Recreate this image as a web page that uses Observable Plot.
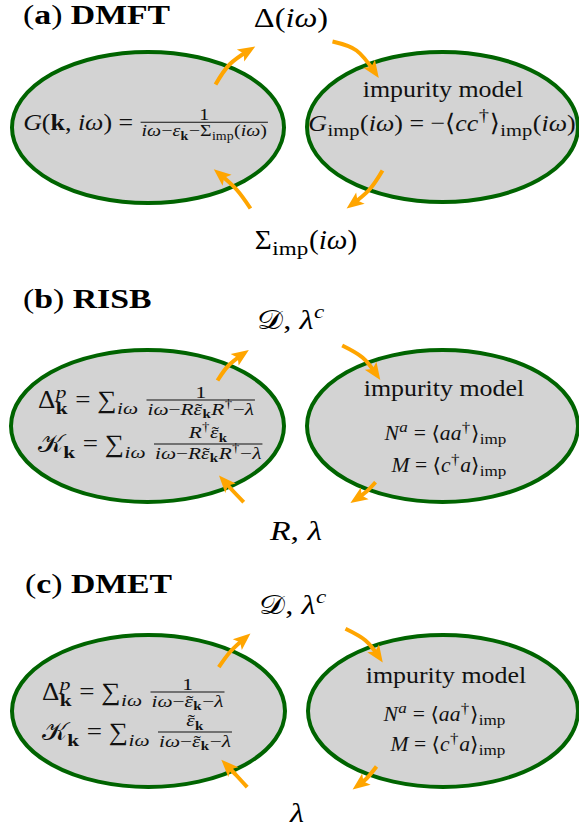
<!DOCTYPE html>
<html><head><meta charset="utf-8">
<script src="https://cdn.jsdelivr.net/npm/d3@7"></script>
<script src="https://cdn.jsdelivr.net/npm/@observablehq/plot@0.6"></script>
<style>body{margin:0;background:#fff}#chart svg{display:block}</style>
</head><body><div id="chart"></div>
<script>
// ---------- helpers for the formula markup ----------
const R = t => [t, "r"], I = t => [t, "i"], B = t => [t, "b"];
const sub = (...a) => ({sub: a}), sup = (...a) => ({sup: a});
const ss = (p, b) => ({ss: [p, b]}), frac = (n, d) => ({frac: [n, d]});
const T = t => ({tilde: t}); // italic letter with a tilde accent

// ---------- data ----------
const ellipses = [
  {id: "a-left", cx: 148, cy: 127.5, rx: 136, ry: 75.5},
  {id: "a-right", cx: 442.5, cy: 127, rx: 135.5, ry: 75},
  {id: "b-left", cx: 147.5, cy: 426, rx: 136.5, ry: 76},
  {id: "b-right", cx: 442.5, cy: 426, rx: 135.5, ry: 76},
  {id: "c-left", cx: 148.5, cy: 711, rx: 136.5, ry: 76},
  {id: "c-right", cx: 443, cy: 711, rx: 135, ry: 76}
];

const arrows = [
  {id: "a-ul", pts: [[215, 84], [229, 64], [249, 49.5]]},
  {id: "a-ll", pts: [[250, 208], [236, 189], [218.5, 173]]},
  {id: "a-ur", pts: [[332, 41], [356, 50], [374.5, 72]]},
  {id: "a-lr", pts: [[382, 170], [369, 189], [351.5, 204]]},
  {id: "b-ul", pts: [[217, 380], [228, 365], [242.8, 353.3]]},
  {id: "b-ll", pts: [[243.3, 501.7], [233, 491], [223, 480]]},
  {id: "b-ur", pts: [[341.7, 345], [362, 357], [376, 374]]},
  {id: "b-lr", pts: [[375, 481.7], [366, 491], [355.5, 498.7]]},
  {id: "c-ul", pts: [[218.3, 666.7], [230, 651], [244.8, 637.3]]},
  {id: "c-ll", pts: [[246.7, 786.7], [236, 775], [225.5, 764]]},
  {id: "c-ur", pts: [[345, 628.3], [365, 640], [378.5, 656.5]]},
  {id: "c-lr", pts: [[376, 766], [367, 777], [357.5, 785]]}
];

const titles = [
  {x: 23, y: 24, anchor: "start", size: 27, hs: 1.25, items: [R("("), B("a"), R(") "), B("DMFT")]},
  {x: 23, y: 308, anchor: "start", size: 27, hs: 1.25, items: [R("("), B("b"), R(") "), B("RISB")]},
  {x: 25, y: 593, anchor: "start", size: 27, hs: 1.25, items: [R("("), B("c"), R(") "), B("DMET")]}
];

const flowLabels = [
  {x: 291, y: 27, anchor: "middle", size: 27, hs: 1.2, items: [R("Δ("), I("iω"), R(")")]},
  {x: 306, y: 249, anchor: "middle", size: 27, hs: 1.08, items: [R("Σ"), sub(R("imp")), R("("), I("iω"), R(")")]},
  {x: 291, y: 329, anchor: "middle", size: 27, hs: 1.2, items: [R("𝒟"), R(", "), I("λ"), sup(I("c"))]},
  {x: 296, y: 540, anchor: "middle", size: 27, hs: 1.25, items: [I("R"), R(", "), I("λ")]},
  {x: 293, y: 614, anchor: "middle", size: 27, hs: 1.2, items: [R("𝒟"), R(", "), I("λ"), sup(I("c"))]},
  {x: 297, y: 822, anchor: "middle", size: 27, hs: 1.2, items: [I("λ")]}
];

const denRISB = [I("iω"), R("−"), I("R"), T("ε"), sub(B("k")), I("R"), sup(R("†")), R("−"), I("λ")];
const denDMET = [I("iω"), R("−"), T("ε"), sub(B("k")), R("−"), I("λ")];

const lattice = [
  {x: 146, y: 130, anchor: "middle", size: 24, fr: 0.68, items: [I("G"), R("("), B("k"), R(", "), I("iω"), R(")"), R(" = "),
    frac([R("1")], [I("iω"), R("−"), I("ε"), sub(B("k")), R("−"), R("Σ"), sub(R("imp")), R("("), I("iω"), R(")")])]},
  {x: 38, y: 408, anchor: "start", size: 25, fr: 0.7, items: [R("Δ"), ss([I("p")], [B("k")]), R(" = "), R("∑"), sub(I("iω")), R(" "),
    frac([R("1")], denRISB)]},
  {x: 38, y: 452, anchor: "start", size: 25, fr: 0.7, items: [R("𝒦"), sub(B("k")), R(" = "), R("∑"), sub(I("iω")), R(" "),
    frac([I("R"), sup(R("†")), T("ε"), sub(B("k"))], denRISB)]},
  {x: 42, y: 700, anchor: "start", size: 25, fr: 0.7, items: [R("Δ"), ss([I("p")], [B("k")]), R(" = "), R("∑"), sub(I("iω")), R(" "),
    frac([R("1")], denDMET)]},
  {x: 42, y: 740, anchor: "start", size: 25, fr: 0.7, items: [R("𝒦"), sub(B("k")), R(" = "), R("∑"), sub(I("iω")), R(" "),
    frac([T("ε"), sub(B("k"))], denDMET)]}
];

const impurity = [
  {x: 443, y: 97, anchor: "middle", size: 24, items: [R("impurity model")]},
  {x: 442, y: 131, anchor: "middle", size: 24, items: [I("G"), sub(R("imp")), R("("), I("iω"), R(") = −⟨"), I("cc"), sup(R("†")), R("⟩"), sub(R("imp")), R("("), I("iω"), R(")")]},
  {x: 444, y: 396, anchor: "middle", size: 24, items: [R("impurity model")]},
  {x: 507, y: 440, anchor: "end", size: 20, items: [I("N"), sup(I("a")), R(" = ⟨"), I("aa"), sup(R("†")), R("⟩"), sub(R("imp"))]},
  {x: 507, y: 472, anchor: "end", size: 20, items: [I("M"), R(" = ⟨"), I("c"), sup(R("†")), I("a"), R("⟩"), sub(R("imp"))]},
  {x: 446, y: 683, anchor: "middle", size: 24, items: [R("impurity model")]},
  {x: 506, y: 721, anchor: "end", size: 20, items: [I("N"), sup(I("a")), R(" = ⟨"), I("aa"), sup(R("†")), R("⟩"), sub(R("imp"))]},
  {x: 506, y: 751, anchor: "end", size: 20, items: [I("M"), R(" = ⟨"), I("c"), sup(R("†")), I("a"), R("⟩"), sub(R("imp"))]}
];

// ---------- formula layout ----------
const FONT = '"Liberation Serif","DejaVu Serif",serif';
const H0 = 1.08, H1 = 1.22, FR = 0.68;
const NS = "http://www.w3.org/2000/svg";
const measSvg = document.createElementNS(NS, "svg");
measSvg.setAttribute("width", 10); measSvg.setAttribute("height", 10);
measSvg.setAttribute("style", "position:absolute;left:-5000px;top:0");
document.body.appendChild(measSvg);
const measText = document.createElementNS(NS, "text");
measSvg.appendChild(measText);
const nb = t => t.replace(/ /g, "\u00a0");
function textWidth(t, st, size) {
  measText.setAttribute("font-family", FONT);
  measText.setAttribute("font-size", size);
  measText.setAttribute("font-style", st === "i" ? "italic" : "normal");
  measText.setAttribute("font-weight", st === "b" ? "bold" : "normal");
  measText.textContent = nb(t);
  let w = 0;
  try { w = measText.getComputedTextLength(); } catch (e) { w = 0; }
  if (!(w > 0)) { try { w = measText.getBBox().width; } catch (e) { w = 0; } }
  if (!(w > 0)) w = [...t].length * size * 0.5;
  return w;
}
function lay(items, size, lvl, opt) {
  const out = {w: 0, parts: [], rules: [], depth: 0};
  let x = 0;
  const place = (L, dx, dy) => {
    for (const p of L.parts) out.parts.push({...p, x: p.x + dx, dy: p.dy + dy});
    for (const r of L.rules) out.rules.push({...r, x1: r.x1 + dx, x2: r.x2 + dx, dy: r.dy + dy});
    out.depth = Math.max(out.depth, L.depth + dy);
  };
  const hs = lvl ? H1 : opt.h0;
  for (const it of items) {
    if (Array.isArray(it)) {
      const [t, st] = it;
      out.parts.push({t, st, size, hs, x, dy: 0});
      x += textWidth(t, st, size) * hs;
    } else if (it.tilde) {
      const w = textWidth(it.tilde, "i", size) * hs;
      const tw = textWidth("˜", "r", size) * hs;
      out.parts.push({t: it.tilde, st: "i", size, hs, x, dy: 0});
      out.parts.push({t: "˜", st: "r", size, hs, x: x + (w - tw) / 2 + size * 0.06, dy: size * 0.02});
      x += w;
    } else if (it.sub || it.sup) {
      const L = lay(it.sub || it.sup, size * 0.7, 1, opt);
      place(L, x + size * 0.02, it.sub ? size * 0.22 : -size * 0.4);
      x += L.w + size * 0.05;
    } else if (it.ss) {
      const A = lay(it.ss[0], size * 0.7, 1, opt), Bq = lay(it.ss[1], size * 0.7, 1, opt);
      place(A, x + size * 0.02, -size * 0.4); place(Bq, x + size * 0.02, size * 0.25);
      x += Math.max(A.w, Bq.w) + size * 0.05;
    } else if (it.frac) {
      const f = size * opt.fr;
      const N = lay(it.frac[0], f, 1, opt), D = lay(it.frac[1], f, 1, opt);
      const pad = size * 0.08, w = Math.max(N.w, D.w) + 2 * pad;
      const bar = -size * 0.32;
      place(N, x + (w - N.w) / 2, bar - size * 0.1 - N.depth);
      place(D, x + (w - D.w) / 2, bar + f * 0.72 + 2);
      out.rules.push({x1: x + pad * 0.5, x2: x + w - pad * 0.5, dy: bar, t: Math.max(0.9, size * 0.045)});
      x += w;
    }
  }
  out.w = x;
  return out;
}
function richText(rows, color) {
  return (index, scales) => {
    const g = d3.create("svg:g").attr("text-anchor", "start");
    for (const row of rows) {
      const L = lay(row.items, row.size, 0, {h0: row.hs ?? H0, fr: row.fr ?? FR});
      const X = scales.x(row.x), Y = scales.y(row.y);
      const x0 = row.anchor === "middle" ? X - L.w / 2 : row.anchor === "end" ? X - L.w : X;
      for (const p of L.parts) {
        g.append("text")
          .attr("text-anchor", "start")
          .attr("transform", `translate(${x0 + p.x},${Y + p.dy}) scale(${p.hs},1)`)
          .attr("font-family", FONT).attr("font-size", p.size)
          .attr("font-style", p.st === "i" ? "italic" : "normal")
          .attr("font-weight", p.st === "b" ? "bold" : "normal")
          .attr("fill", color).text(nb(p.t));
      }
      for (const r of L.rules) {
        g.append("line").attr("x1", x0 + r.x1).attr("x2", x0 + r.x2)
          .attr("y1", Y + r.dy).attr("y2", Y + r.dy)
          .attr("stroke", color).attr("stroke-width", r.t);
      }
    }
    return g.node();
  };
}

const ellipseMark = (index, {x, y}) => {
  const g = d3.create("svg:g");
  for (const e of ellipses) {
    g.append("ellipse").attr("cx", x(e.cx)).attr("cy", y(e.cy))
      .attr("rx", Math.abs(x(e.cx + e.rx) - x(e.cx))).attr("ry", Math.abs(y(e.cy + e.ry) - y(e.cy)))
      .attr("fill", "#d3d3d3").attr("stroke", "#006400").attr("stroke-width", 4);
  }
  return g.node();
};

function headMarker(color) {
  const m = d3.create("svg:marker")
    .attr("viewBox", "-10 -7.5 15 15").attr("markerWidth", 22.5).attr("markerHeight", 22.5)
    .attr("markerUnits", "userSpaceOnUse").attr("orient", "auto").attr("refX", 0).attr("refY", 0);
  m.append("path").attr("d", "M-7,-4.7L4.5,0L-7,4.7L-4.5,0Z").attr("fill", color).attr("stroke", "none");
  return m.node();
}

const arrowPts = arrows.flatMap(a => a.pts.map(([px, py], i) => ({id: a.id, px, py, i})));

function build(marker) {
  return Plot.plot({
    width: 579, height: 830, margin: 0,
    style: {background: "#fff", overflow: "visible"},
    x: {domain: [0, 579], range: [0, 579], axis: null},
    y: {domain: [0, 830], range: [0, 830], axis: null},
    marks: [
      ellipseMark,
      Plot.line(arrowPts, {x: "px", y: "py", z: "id", curve: "natural", stroke: "#ffa500",
        strokeWidth: 4, strokeLinecap: "butt", markerEnd: marker}),
      richText(titles, "#000"),
      richText(flowLabels, "#000"),
      richText(lattice, "#111"),
      richText(impurity, "#111")
    ]
  });
}
let svg;
try { svg = build(headMarker); } catch (e) { svg = build("arrow"); }
document.getElementById("chart").append(svg);
measSvg.remove();
</script></body></html>
